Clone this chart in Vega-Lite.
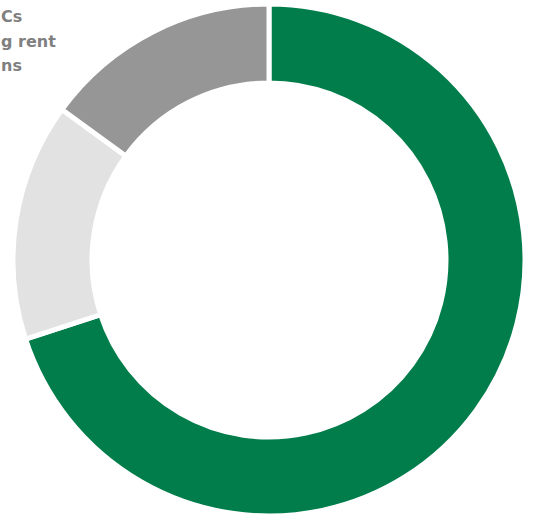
{
  "$schema": "https://vega.github.io/schema/vega-lite/v6.json",
  "width": 533,
  "height": 516,
  "autosize": {"type": "fit", "contains": "padding"},
  "padding": {"left": 5, "top": 4, "right": 0, "bottom": 0},
  "background": "white",
  "data": {
    "values": [
      {"category": "Cs", "value": 70, "rank": 1},
      {"category": "g rent", "value": 15, "rank": 2},
      {"category": "ns", "value": 15, "rank": 3}
    ]
  },
  "mark": {"type": "arc", "outerRadius": 256, "innerRadius": 177, "stroke": "white", "strokeWidth": 5},
  "encoding": {
    "theta": {"field": "value", "type": "quantitative", "stack": true},
    "order": {"field": "rank", "type": "quantitative"},
    "color": {
      "field": "category",
      "type": "nominal",
      "scale": {"domain": ["Cs", "g rent", "ns"], "range": ["#007D4B", "#E2E2E2", "#969696"]},
      "legend": {
        "title": null,
        "orient": "none",
        "legendX": -24,
        "legendY": -3,
        "padding": 0,
        "symbolSize": 100,
        "symbolOpacity": 0,
        "symbolStrokeWidth": 0,
        "labelOffset": 4,
        "labelFont": "DejaVu Sans",
        "labelFontWeight": "bold",
        "labelFontSize": 16,
        "labelColor": "#808080",
        "rowPadding": 8.5
      }
    }
  },
  "view": {"stroke": null}
}
